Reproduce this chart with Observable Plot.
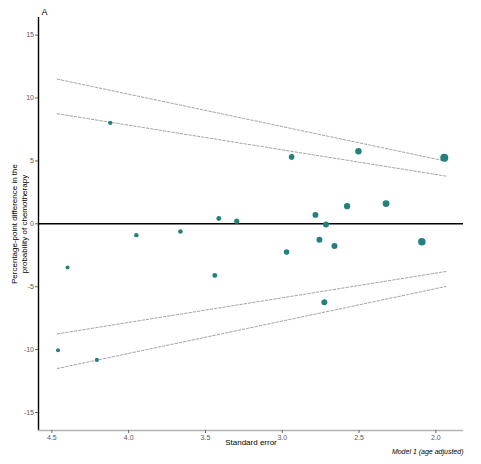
<!DOCTYPE html>
<html>
<head>
<meta charset="utf-8">
<script src="https://cdn.jsdelivr.net/npm/d3@7"></script>
<script src="https://cdn.jsdelivr.net/npm/@observablehq/plot@0.6"></script>
<style>
  html, body { margin: 0; padding: 0; background: #fff; }
  #chart svg { display: block; }
</style>
</head>
<body>
<div id="chart"></div>
<script>
// Study standard errors and percentage-point differences
const standardErrors = [4.120, 4.398, 3.950, 4.460, 4.207, 2.939, 3.413, 3.296, 3.663, 2.972, 3.439,
                        2.784, 2.758, 2.504, 1.945, 2.578, 2.324, 2.715, 2.660, 2.091, 2.726];
const differences    = [8.02, -3.47, -0.90, -10.06, -10.82, 5.32, 0.42, 0.21, -0.61, -2.25, -4.10,
                        0.71, -1.27, 5.77, 5.26, 1.40, 1.61, -0.05, -1.77, -1.43, -6.24];

// Funnel limits: span of standard errors and z multipliers (95% and 99%)
const funnelSE = [4.465, 1.935];
const funnelZ = [-2.576, -1.96, 1.96, 2.576];

const xTicks = [4.5, 4.0, 3.5, 3.0, 2.5, 2.0];
const yTicks = [-15, -10, -5, 0, 5, 10, 15];

const xDomain = [4.587, 1.82];
const yDomain = [-16.43, 16.4];

const points = standardErrors.map((se, i) => ({se, diff: differences[i], w: 1 / (se * se)}));
const funnel = funnelZ.flatMap(z => funnelSE.map(se => ({se, y: z * se, z})));
const wExtent = d3.extent(points, d => d.w);

const teal = "#23807f";

const chart = Plot.plot({
  width: 481,
  height: 464,
  marginLeft: 38,
  marginRight: 18,
  marginTop: 17,
  marginBottom: 34,
  style: {fontFamily: "'Liberation Sans', Arial, sans-serif", fontSize: "7px", background: "#fff"},
  x: {domain: xDomain, label: null},
  y: {domain: yDomain, label: null},
  r: {type: "sqrt", domain: wExtent, range: [2, 4]},
  marks: [
    Plot.ruleY([0], {stroke: "#000", strokeWidth: 1.4}),
    Plot.line(funnel, {x: "se", y: "y", z: "z", stroke: "#666", strokeWidth: 0.6, strokeDasharray: "2.5,1.8"}),
    Plot.dot(points, {x: "se", y: "diff", r: "w", fill: teal, stroke: "none"}),
    Plot.ruleX([xDomain[0]], {stroke: "#000", strokeWidth: 1.4}),
    Plot.ruleY([yDomain[0]], {stroke: "#b3b3b3", strokeWidth: 1.4}),
    Plot.axisY(yTicks, {tickSize: 3, tickPadding: 1.5, tickFormat: d => String(d), fill: "#595959", stroke: "#666", fontSize: 7, label: null}),
    Plot.axisX(xTicks, {tickSize: 3, tickPadding: 1.5, tickFormat: d3.format(".1f"), fill: "#595959", stroke: "#666", fontSize: 7, label: null}),
    Plot.text(["Percentage-point difference in the\nprobability of chemotherapy"], {
      frameAnchor: "left", textAnchor: "middle", dx: -20, rotate: -90, fontSize: 8, fill: "#000", lineHeight: 1.25
    }),
    Plot.text(["Standard error"], {frameAnchor: "bottom", dy: 14, fontSize: 8, fill: "#000"}),
    Plot.text(["Model 1 (age adjusted)"], {frameAnchor: "bottom-right", dy: 23, textAnchor: "end", fontSize: 7, fontStyle: "italic", fill: "#000"}),
    Plot.text(["A"], {frameAnchor: "top-left", dx: 3, dy: -9, fontSize: 9, fill: "#000"})
  ]
});

document.getElementById("chart").appendChild(chart);
</script>
</body>
</html>
